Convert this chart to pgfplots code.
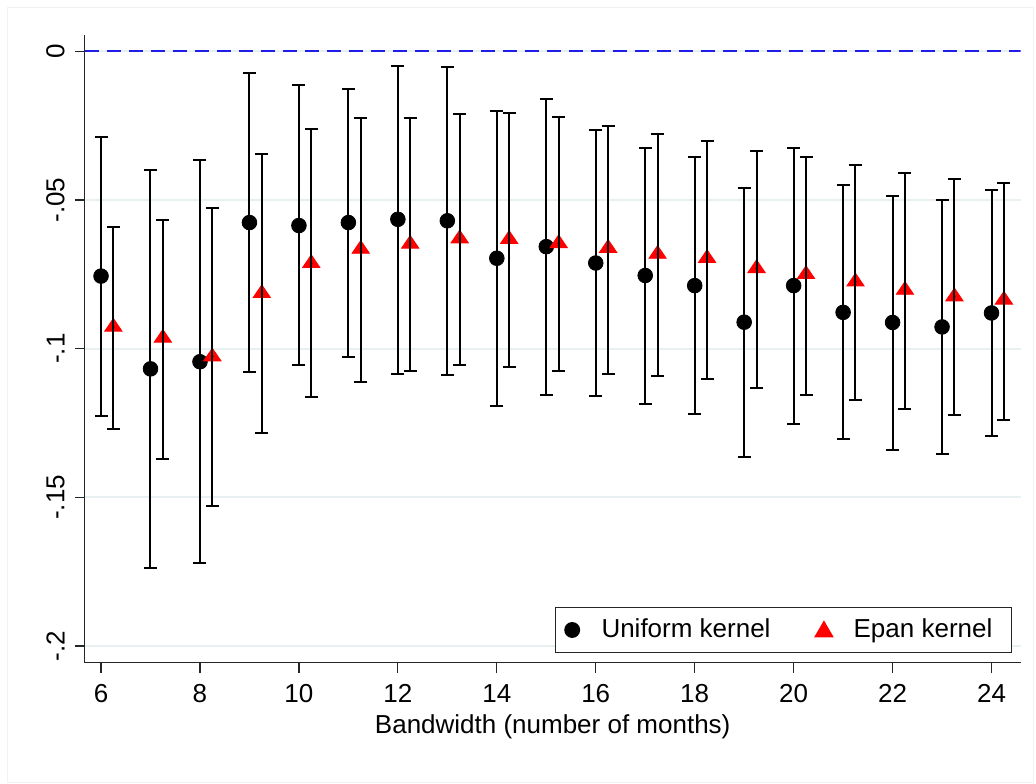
\documentclass[border=0pt]{standalone}
\usepackage{pgfplots}
\usepackage{pgfplotstable}
\pgfplotsset{compat=1.18}
\usepackage{fontspec}
\setmainfont{Liberation Sans}
\definecolor{gridc}{RGB}{232,240,242}
\definecolor{epan}{RGB}{255,0,0}
\definecolor{zline}{RGB}{30,30,230}

\pgfplotstableread{
x y lo hi
6 -0.0756 -0.1226 -0.0287
7 -0.1068 -0.1738 -0.0400
8 -0.1044 -0.1721 -0.0367
9 -0.0576 -0.1077 -0.0074
10 -0.0586 -0.1056 -0.0114
11 -0.0576 -0.1028 -0.0127
12 -0.0565 -0.1084 -0.0049
13 -0.0570 -0.1087 -0.0054
14 -0.0696 -0.1192 -0.0200
15 -0.0657 -0.1155 -0.0161
16 -0.0712 -0.1159 -0.0264
17 -0.0754 -0.1186 -0.0324
18 -0.0788 -0.1220 -0.0355
19 -0.0911 -0.1364 -0.0459
20 -0.0788 -0.1252 -0.0324
21 -0.0878 -0.1305 -0.0450
22 -0.0912 -0.1341 -0.0487
23 -0.0927 -0.1355 -0.0500
24 -0.0880 -0.1295 -0.0465
}\uni

\pgfplotstableread{
x y lo hi
6.25 -0.0927 -0.1271 -0.0590
7.25 -0.0964 -0.1371 -0.0567
8.25 -0.1027 -0.1528 -0.0526
9.25 -0.0814 -0.1282 -0.0345
10.25 -0.0713 -0.1163 -0.0262
11.25 -0.0665 -0.1113 -0.0225
12.25 -0.0648 -0.1074 -0.0225
13.25 -0.0630 -0.1056 -0.0210
14.25 -0.0632 -0.1062 -0.0209
15.25 -0.0646 -0.1076 -0.0220
16.25 -0.0662 -0.1084 -0.0252
17.25 -0.0682 -0.1093 -0.0278
18.25 -0.0696 -0.1103 -0.0301
19.25 -0.0730 -0.1131 -0.0334
20.25 -0.0750 -0.1155 -0.0355
21.25 -0.0775 -0.1174 -0.0382
22.25 -0.0803 -0.1202 -0.0411
23.25 -0.0825 -0.1224 -0.0430
24.25 -0.0836 -0.1239 -0.0443
}\epa

\begin{document}
\begin{tikzpicture}
\begin{axis}[
  at={(0,0)}, anchor=south west,
  scale only axis,
  width=468pt, height=313.9pt,
  xmin=5.67, xmax=24.59,
  ymin=-0.2056, ymax=0.0055,
  clip marker paths=true,
  axis x line*=bottom, axis y line*=left,
  axis line style={-, line width=0.6pt, black!85},
  tick align=outside,
  major tick length=5pt,
  tick style={line width=0.6pt, black!85},
  xtick={6,8,...,24},
  ytick={-0.2,-0.15,-0.1,-0.05,0},
  yticklabels={-.2,-.15,-.1,-.05,0},
  ymajorgrids,
  grid style={gridc, line width=0.9pt},
  /pgf/number format/assume math mode=true,
  ticklabel style={font=\fontsize{13}{15.5}\selectfont},
  xticklabel style={yshift=-2.5pt},
  yticklabel style={rotate=90, anchor=south, yshift=1.5pt},
  xlabel={Bandwidth (number of months)},
  xlabel style={font=\fontsize{13}{15.5}\selectfont, yshift=1pt},
  legend columns=2,
  legend style={at={(1,0)}, anchor=south east, xshift=-4.5pt, yshift=4.7pt,
    draw=black!85, line width=0.6pt, font=\fontsize{13}{15.5}\selectfont,
    nodes={inner sep=0pt},
    /tikz/every odd column/.append style={column sep=10.15pt},
    /tikz/every even column/.append style={column sep=22pt},
    inner xsep=3.85pt, inner ysep=5.9pt},
  legend cell align=left,
]
\addplot[forget plot, zline, line width=0.8pt, dash pattern=on 7pt off 4pt] coordinates {(5.67,0) (24.59,0)};

\addplot[forget plot, only marks, mark=*, mark size=3.67pt, black] table[x=x, y=y] {\uni};
\addplot[forget plot, only marks, mark=triangle*, mark size=5pt, epan, mark options={yscale=0.85}] table[x=x, y=y] {\epa};

\addplot[forget plot, only marks, mark=*, mark size=0.3pt, black,
  error bars/.cd, y dir=both, y explicit,
  error bar style={black, line width=1pt, solid},
  error mark options={rotate=90, mark size=3.25pt, line width=1pt, black}]
  table[x=x, y=y, y error plus expr=\thisrow{hi}-\thisrow{y}, y error minus expr=\thisrow{y}-\thisrow{lo}] {\uni};
\addplot[forget plot, only marks, mark=*, mark size=0.3pt, black,
  error bars/.cd, y dir=both, y explicit,
  error bar style={black, line width=1pt, solid},
  error mark options={rotate=90, mark size=3.25pt, line width=1pt, black}]
  table[x=x, y=y, y error plus expr=\thisrow{hi}-\thisrow{y}, y error minus expr=\thisrow{y}-\thisrow{lo}] {\epa};

\addlegendimage{legend image code/.code={\path[draw=none,fill=none] (0pt,-4pt) rectangle (9pt,4pt); \fill[black] (4.5pt,0pt) circle (3.67pt);}}
\addlegendentry{Uniform kernel}
\addlegendimage{legend image code/.code={\path[draw=none,fill=none] (0pt,-4pt) rectangle (9pt,4pt); \fill[epan] (4.5pt,4.2pt) -- (0.1pt,-3.4pt) -- (8.9pt,-3.4pt) -- cycle;}}
\addlegendentry{Epan kernel\kern5.5pt}
\end{axis}
\pgfresetboundingbox
\draw[black!5, line width=0.5pt] (-38.35pt,327.35pt) rectangle (474.15pt,-60pt);
\path[use as bounding box] (-42.35pt,-50.15pt) rectangle (475.65pt,331.35pt);
\end{tikzpicture}
\end{document}
